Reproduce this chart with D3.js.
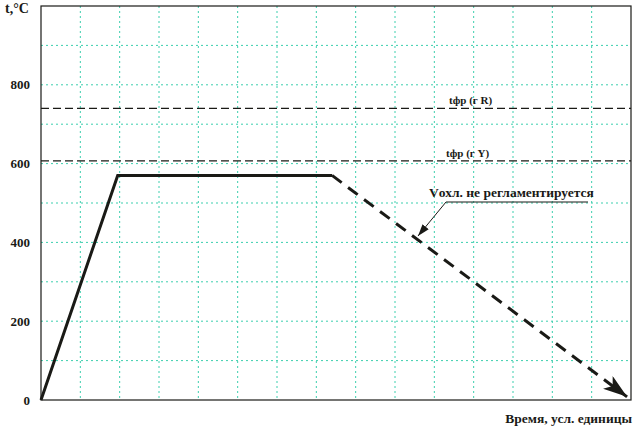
<!DOCTYPE html>
<html><head><meta charset="utf-8">
<script src="https://cdn.jsdelivr.net/npm/d3@7"></script>
<style>body{margin:0;background:#fff}svg{display:block}text{font-family:"Liberation Serif","DejaVu Serif",serif;font-weight:bold;fill:#1a1a16}</style>
</head><body>
<script>
const heatTime = [0, 1.95, 7.4];
const heatTemp = [0, 570, 570];
const coolTime = [7.4, 14.9];
const coolTemp = [570, 8];
const refLevels = [740, 607];
const refLabels = ["tфр (г R)", "tфр (г Y)"];
const yTicks = [0, 200, 400, 600, 800];
const xGrid = d3.range(1, 15);
const yGrid = d3.range(100, 1000, 100);
const annotation = "Vохл. не регламентируется";
const xTitle = "Время, усл. единицы";
const yTitle = "t,°C";

const W = 633, H = 427;
const svg = d3.select("body").append("svg").attr("width", W).attr("height", H);
const x = d3.scaleLinear().domain([0, 15]).range([41, 631]);
const y = d3.scaleLinear().domain([0, 1000]).range([400, 6]);
const ink = "#1a1a16", gridC = "#3ccfae";

// grid
svg.append("g").selectAll("line").data(xGrid).join("line")
  .attr("x1", d => x(d)).attr("x2", d => x(d)).attr("y1", y(1000)).attr("y2", y(0))
  .attr("stroke", gridC).attr("stroke-width", 1).attr("stroke-dasharray", "2,3");
svg.append("g").selectAll("line").data(yGrid).join("line")
  .attr("x1", x(0)).attr("x2", x(15)).attr("y1", d => y(d)).attr("y2", d => y(d))
  .attr("stroke", gridC).attr("stroke-width", 1).attr("stroke-dasharray", "2,3");

// frame
svg.append("rect").attr("x", x(0)).attr("y", y(1000)).attr("width", x(15) - x(0)).attr("height", y(0) - y(1000))
  .attr("fill", "none").attr("stroke", ink).attr("stroke-width", 1.2);

// y axis labels
const yAxis = d3.axisLeft(y).tickValues(yTicks).tickSize(0).tickPadding(11).tickFormat(d3.format("d"));
const ga = svg.append("g").attr("transform", `translate(${x(0)},0)`).call(yAxis);
ga.select(".domain").remove();
ga.selectAll("text").style("font-size", "13px").style("font-family", "Liberation Serif").style("font-weight", "bold").attr("fill", ink);

// reference levels
svg.append("g").selectAll("line").data(refLevels).join("line")
  .attr("x1", x(0)).attr("x2", x(15)).attr("y1", d => y(d)).attr("y2", d => y(d))
  .attr("stroke", ink).attr("stroke-width", 1.2).attr("stroke-dasharray", "8,4");
svg.append("g").selectAll("text").data(refLevels).join("text")
  .attr("x", (d, i) => i === 0 ? 449 : 446).attr("y", d => y(d) - 4)
  .style("font-size", "11px").text((d, i) => refLabels[i]);

// heating + holding
const line = d3.line().x(d => x(d[0])).y(d => y(d[1]));
svg.append("path").datum(heatTime.map((t, i) => [t, heatTemp[i]]))
  .attr("d", line).attr("fill", "none").attr("stroke", ink).attr("stroke-width", 3).attr("stroke-linejoin", "miter");

// cooling dashed with arrow
svg.append("defs").append("marker").attr("id", "arr").attr("viewBox", "0 0 24 16")
  .attr("refX", 24).attr("refY", 8).attr("markerWidth", 24).attr("markerHeight", 16)
  .attr("markerUnits", "userSpaceOnUse").attr("orient", "auto")
  .append("path").attr("d", "M0,0 L24,8 L0,16 L6,8 Z").attr("fill", ink);
svg.append("path").datum(coolTime.map((t, i) => [t, coolTemp[i]]))
  .attr("d", line).attr("fill", "none").attr("stroke", ink).attr("stroke-width", 3)
  .attr("stroke-dasharray", "12,8").attr("marker-end", "url(#arr)");

// annotation
svg.append("text").attr("x", 429).attr("y", 197).style("font-size", "13.5px").text(annotation);
svg.append("line").attr("x1", 446).attr("x2", 588).attr("y1", 202).attr("y2", 202).attr("stroke", ink).attr("stroke-width", 1.2);
svg.append("defs").append("marker").attr("id", "arr2").attr("viewBox", "0 0 12 8")
  .attr("refX", 12).attr("refY", 4).attr("markerWidth", 12).attr("markerHeight", 8)
  .attr("markerUnits", "userSpaceOnUse").attr("orient", "auto")
  .append("path").attr("d", "M0,0 L12,4 L0,8 Z").attr("fill", ink);
svg.append("line").attr("x1", 446).attr("y1", 202).attr("x2", 418).attr("y2", 236)
  .attr("stroke", ink).attr("stroke-width", 1).attr("marker-end", "url(#arr2)");

// titles
svg.append("text").attr("x", 5).attr("y", 13).style("font-size", "14px").text(yTitle);
svg.append("text").attr("x", 632).attr("y", 423).attr("text-anchor", "end").style("font-size", "13.5px").text(xTitle);
</script>
</body></html>
